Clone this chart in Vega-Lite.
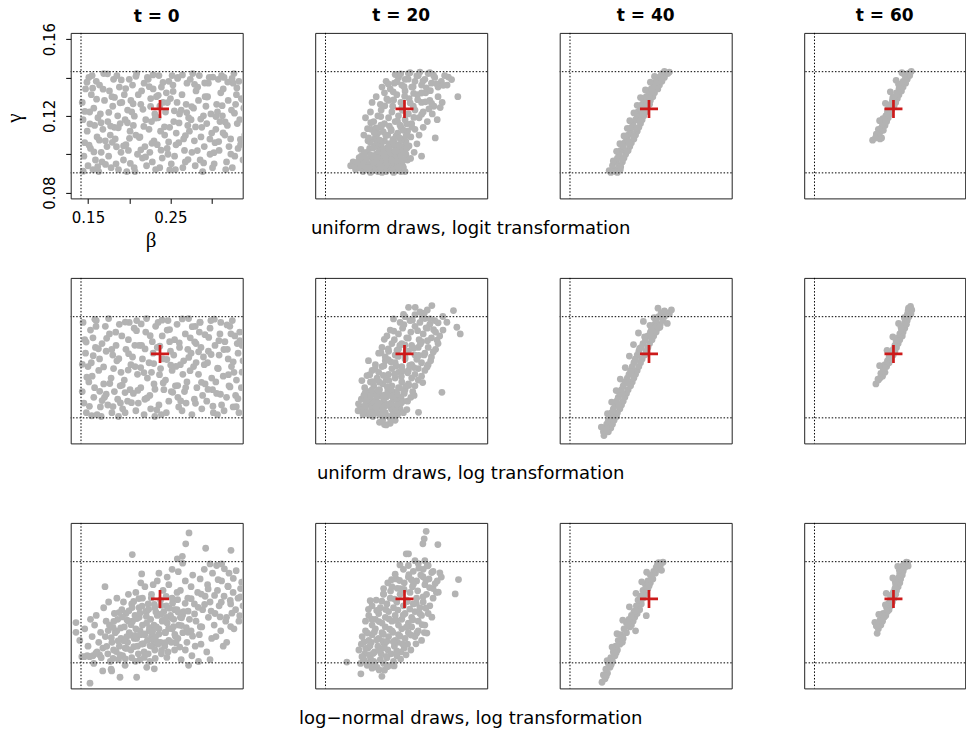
{
"$schema":"https://vega.github.io/schema/vega-lite/v6.json",
"background":"white",
"autosize":{"type":"pad"},
"padding":{"left":2.7,"top":5.9,"right":0,"bottom":0},
"config":{
 "view":{"stroke":"#222","strokeWidth":1},
 "font":"DejaVu Sans",
 "axis":{"grid":false,"domain":false,"labelFont":"DejaVu Sans","labelColor":"#000","tickColor":"#000","titleColor":"#000","titleFont":"DejaVu Sans"},
 "title":{"font":"DejaVu Sans","fontSize":17,"fontWeight":"bold","color":"#000","baseline":"alphabetic","offset":7.3,"anchor":"middle","frame":"group"},
 "circle":{"size":46,"color":"#b3b3b3","opacity":1},
 "rule":{"color":"#000","strokeDash":[1.5,1.8],"strokeWidth":1},
 "point":{"shape":"M-1,0L1,0M0,-1L0,1","size":324,"strokeWidth":2.7,"color":"#cd1a1a","filled":false,"opacity":1}
},
"datasets":{
"vl":[{"b":0.1415}],
"hl":[{"g":0.0903},{"g":0.143}],
"tr":[{"b":0.2373,"g":0.1236}],
"r1c1":[{"b":0.143,"g":0.127},{"b":0.145,"g":0.099},{"b":0.147,"g":0.134},{"b":0.149,"g":0.112},{"b":0.150,"g":0.094},{"b":0.144,"g":0.118},{"b":0.151,"g":0.140},{"b":0.146,"g":0.106},{"b":0.152,"g":0.122},
{"b":0.154,"g":0.131},{"b":0.156,"g":0.092},{"b":0.158,"g":0.115},{"b":0.153,"g":0.103},{"b":0.160,"g":0.138},{"b":0.161,"g":0.109},{"b":0.157,"g":0.124},{"b":0.159,"g":0.097},{"b":0.155,"g":0.141},{"b":0.162,"g":0.119},
{"b":0.164,"g":0.136},{"b":0.166,"g":0.101},{"b":0.168,"g":0.113},{"b":0.163,"g":0.091},{"b":0.170,"g":0.128},{"b":0.171,"g":0.107},{"b":0.165,"g":0.121},{"b":0.169,"g":0.142},{"b":0.167,"g":0.096},
{"b":0.174,"g":0.117},{"b":0.176,"g":0.133},{"b":0.178,"g":0.093},{"b":0.173,"g":0.104},{"b":0.180,"g":0.125},{"b":0.181,"g":0.139},{"b":0.177,"g":0.110},{"b":0.175,"g":0.099},{"b":0.182,"g":0.114},{"b":0.179,"g":0.130},
{"b":0.184,"g":0.095},{"b":0.186,"g":0.120},{"b":0.188,"g":0.135},{"b":0.183,"g":0.108},{"b":0.190,"g":0.101},{"b":0.191,"g":0.127},{"b":0.185,"g":0.141},{"b":0.189,"g":0.116},{"b":0.187,"g":0.092},
{"b":0.194,"g":0.131},{"b":0.196,"g":0.105},{"b":0.198,"g":0.123},{"b":0.193,"g":0.097},{"b":0.200,"g":0.139},{"b":0.201,"g":0.112},{"b":0.197,"g":0.091},{"b":0.195,"g":0.118},{"b":0.202,"g":0.128},{"b":0.199,"g":0.102},
{"b":0.204,"g":0.136},{"b":0.206,"g":0.093},{"b":0.208,"g":0.110},{"b":0.203,"g":0.122},{"b":0.210,"g":0.100},{"b":0.211,"g":0.131},{"b":0.205,"g":0.115},{"b":0.209,"g":0.142},{"b":0.207,"g":0.091},
{"b":0.214,"g":0.126},{"b":0.216,"g":0.098},{"b":0.218,"g":0.137},{"b":0.213,"g":0.109},{"b":0.220,"g":0.118},{"b":0.221,"g":0.094},{"b":0.215,"g":0.133},{"b":0.219,"g":0.104},{"b":0.222,"g":0.140},
{"b":0.224,"g":0.113},{"b":0.226,"g":0.129},{"b":0.228,"g":0.096},{"b":0.223,"g":0.139},{"b":0.230,"g":0.107},{"b":0.231,"g":0.121},{"b":0.225,"g":0.101},{"b":0.229,"g":0.134},{"b":0.227,"g":0.117},{"b":0.232,"g":0.092},
{"b":0.234,"g":0.105},{"b":0.236,"g":0.141},{"b":0.238,"g":0.112},{"b":0.233,"g":0.130},{"b":0.240,"g":0.098},{"b":0.241,"g":0.127},{"b":0.235,"g":0.119},{"b":0.239,"g":0.135},{"b":0.237,"g":0.093},
{"b":0.244,"g":0.122},{"b":0.246,"g":0.103},{"b":0.248,"g":0.138},{"b":0.243,"g":0.110},{"b":0.250,"g":0.129},{"b":0.251,"g":0.095},{"b":0.245,"g":0.132},{"b":0.249,"g":0.114},{"b":0.247,"g":0.100},{"b":0.252,"g":0.141},
{"b":0.254,"g":0.117},{"b":0.256,"g":0.092},{"b":0.258,"g":0.127},{"b":0.253,"g":0.136},{"b":0.260,"g":0.106},{"b":0.261,"g":0.121},{"b":0.255,"g":0.099},{"b":0.259,"g":0.140},{"b":0.257,"g":0.111},
{"b":0.264,"g":0.131},{"b":0.266,"g":0.108},{"b":0.268,"g":0.096},{"b":0.263,"g":0.123},{"b":0.270,"g":0.137},{"b":0.271,"g":0.115},{"b":0.265,"g":0.093},{"b":0.269,"g":0.126},{"b":0.267,"g":0.102},{"b":0.272,"g":0.119},
{"b":0.274,"g":0.139},{"b":0.276,"g":0.101},{"b":0.278,"g":0.124},{"b":0.273,"g":0.112},{"b":0.280,"g":0.094},{"b":0.281,"g":0.133},{"b":0.275,"g":0.118},{"b":0.279,"g":0.107},{"b":0.277,"g":0.142},
{"b":0.284,"g":0.128},{"b":0.286,"g":0.097},{"b":0.288,"g":0.114},{"b":0.283,"g":0.135},{"b":0.290,"g":0.120},{"b":0.291,"g":0.104},{"b":0.285,"g":0.141},{"b":0.289,"g":0.091},{"b":0.287,"g":0.109},{"b":0.292,"g":0.130},
{"b":0.294,"g":0.116},{"b":0.296,"g":0.137},{"b":0.298,"g":0.100},{"b":0.293,"g":0.125},{"b":0.300,"g":0.111},{"b":0.301,"g":0.093},{"b":0.295,"g":0.130},{"b":0.299,"g":0.121},{"b":0.297,"g":0.140},
{"b":0.304,"g":0.106},{"b":0.306,"g":0.126},{"b":0.308,"g":0.139},{"b":0.303,"g":0.095},{"b":0.310,"g":0.117},{"b":0.311,"g":0.132},{"b":0.305,"g":0.113},{"b":0.309,"g":0.102},{"b":0.307,"g":0.122},{"b":0.312,"g":0.141},
{"b":0.314,"g":0.134},{"b":0.316,"g":0.110},{"b":0.318,"g":0.096},{"b":0.313,"g":0.120},{"b":0.320,"g":0.128},{"b":0.321,"g":0.104},{"b":0.315,"g":0.140},{"b":0.319,"g":0.115},{"b":0.317,"g":0.092},
{"b":0.324,"g":0.123},{"b":0.326,"g":0.137},{"b":0.328,"g":0.099},{"b":0.323,"g":0.108},{"b":0.330,"g":0.131},{"b":0.331,"g":0.116},{"b":0.325,"g":0.093},{"b":0.329,"g":0.126},{"b":0.327,"g":0.142},{"b":0.332,"g":0.103},
{"b":0.334,"g":0.118},{"b":0.336,"g":0.129},{"b":0.338,"g":0.097},{"b":0.333,"g":0.138},{"b":0.340,"g":0.110},{"b":0.335,"g":0.105},{"b":0.339,"g":0.124},
{"b":0.1442,"g":0.0912},{"b":0.1487,"g":0.1375},{"b":0.1523,"g":0.1158},{"b":0.1571,"g":0.1012},{"b":0.1604,"g":0.1287},{"b":0.1638,"g":0.1073},{"b":0.1683,"g":0.1339},{"b":0.1712,"g":0.0947},{"b":0.1752,"g":0.1218},{"b":0.1795,"g":0.1062},{"b":0.1821,"g":0.1296},{"b":0.1867,"g":0.1138},{"b":0.1903,"g":0.1387},{"b":0.1931,"g":0.1043},{"b":0.1978,"g":0.1164},{"b":0.2013,"g":0.0952},{"b":0.2047,"g":0.1263},{"b":0.2081,"g":0.1406},{"b":0.2122,"g":0.1087},{"b":0.2166,"g":0.1234},{"b":0.2198,"g":0.0986},{"b":0.2243,"g":0.1352},{"b":0.2275,"g":0.1057},{"b":0.2316,"g":0.1188},{"b":0.2352,"g":0.1307},{"b":0.2386,"g":0.1021},{"b":0.2427,"g":0.1143},{"b":0.2463,"g":0.1269},{"b":0.2491,"g":0.0918},{"b":0.2532,"g":0.1327},{"b":0.2567,"g":0.1049},{"b":0.2604,"g":0.1163},{"b":0.2645,"g":0.1413},{"b":0.2681,"g":0.1097},{"b":0.2713,"g":0.0972},{"b":0.2757,"g":0.1248},{"b":0.2792,"g":0.1364},{"b":0.2826,"g":0.1019},{"b":0.2867,"g":0.1183},{"b":0.2902,"g":0.0955},{"b":0.2943,"g":0.1298},{"b":0.2978,"g":0.1079},{"b":0.3014,"g":0.1402},{"b":0.3051,"g":0.1196},{"b":0.3085,"g":0.1066},{"b":0.3127,"g":0.1253},{"b":0.3163,"g":0.1168},{"b":0.3194,"g":0.1376},{"b":0.3232,"g":0.1001},{"b":0.3276,"g":0.1214},{"b":0.3305,"g":0.1345},{"b":0.3348,"g":0.1077},{"b":0.3372,"g":0.1285},{"b":0.1462,"g":0.1223},{"b":0.1556,"g":0.1344},{"b":0.1658,"g":0.1164},{"b":0.1737,"g":0.1419},{"b":0.1845,"g":0.1039},{"b":0.1957,"g":0.1342},{"b":0.2062,"g":0.1198},{"b":0.2177,"g":0.1145},{"b":0.2288,"g":0.1413},{"b":0.2371,"g":0.1251},{"b":0.2478,"g":0.1064},{"b":0.2586,"g":0.1395},{"b":0.2697,"g":0.1217},{"b":0.2804,"g":0.1142},{"b":0.2915,"g":0.1371},{"b":0.3027,"g":0.1008},{"b":0.3138,"g":0.1111},{"b":0.3247,"g":0.1395},{"b":0.1513,"g":0.1047},{"b":0.1617,"g":0.0935},{"b":0.1774,"g":0.1147},{"b":0.1889,"g":0.1268},{"b":0.2003,"g":0.1083},{"b":0.2141,"g":0.1023},{"b":0.2259,"g":0.1249},{"b":0.2409,"g":0.1374},{"b":0.2547,"g":0.1226}],
"r1c2":[{"b":0.172,"g":0.094},{"b":0.175,"g":0.096},{"b":0.178,"g":0.092},{"b":0.180,"g":0.095},{"b":0.183,"g":0.093},{"b":0.185,"g":0.097},{"b":0.187,"g":0.091},{"b":0.189,"g":0.094},{"b":0.191,"g":0.096},{"b":0.193,"g":0.092},{"b":0.195,"g":0.095},{"b":0.197,"g":0.091},{"b":0.199,"g":0.093},{"b":0.201,"g":0.097},{"b":0.203,"g":0.094},{"b":0.205,"g":0.091},{"b":0.207,"g":0.096},{"b":0.209,"g":0.092},{"b":0.211,"g":0.094},{"b":0.213,"g":0.097},{"b":0.215,"g":0.091},{"b":0.217,"g":0.093},{"b":0.219,"g":0.095},{"b":0.221,"g":0.092},{"b":0.223,"g":0.096},{"b":0.225,"g":0.091},{"b":0.227,"g":0.094},{"b":0.229,"g":0.092},{"b":0.231,"g":0.095},{"b":0.233,"g":0.091},{"b":0.236,"g":0.093},{"b":0.238,"g":0.091},{"b":0.196,"g":0.0905},{"b":0.210,"g":0.0905},{"b":0.224,"g":0.0905},
{"b":0.204,"g":0.099},{"b":0.212,"g":0.0915},{"b":0.218,"g":0.0985},{"b":0.226,"g":0.099},{"b":0.232,"g":0.0985},{"b":0.206,"g":0.0935},{"b":0.222,"g":0.0935},{"b":0.214,"g":0.0955},{"b":0.228,"g":0.0965},{"b":0.234,"g":0.0955},
{"b":0.185,"g":0.099},{"b":0.192,"g":0.101},{"b":0.198,"g":0.098},{"b":0.203,"g":0.100},{"b":0.207,"g":0.103},{"b":0.211,"g":0.099},{"b":0.214,"g":0.102},{"b":0.218,"g":0.104},{"b":0.221,"g":0.098},{"b":0.224,"g":0.101},{"b":0.227,"g":0.103},{"b":0.230,"g":0.099},{"b":0.233,"g":0.102},{"b":0.236,"g":0.104},{"b":0.239,"g":0.100},{"b":0.216,"g":0.0975},{"b":0.209,"g":0.105},{"b":0.201,"g":0.104},{"b":0.195,"g":0.103},{"b":0.241,"g":0.097},{"b":0.226,"g":0.097},{"b":0.231,"g":0.105},{"b":0.258,"g":0.099},{"b":0.249,"g":0.101},{"b":0.2746,"g":0.1085},
{"b":0.188,"g":0.110},{"b":0.193,"g":0.107},{"b":0.197,"g":0.113},{"b":0.201,"g":0.108},{"b":0.205,"g":0.111},{"b":0.209,"g":0.114},{"b":0.213,"g":0.107},{"b":0.217,"g":0.110},{"b":0.221,"g":0.113},{"b":0.225,"g":0.106},{"b":0.229,"g":0.111},{"b":0.233,"g":0.114},{"b":0.237,"g":0.108},{"b":0.241,"g":0.112},{"b":0.245,"g":0.109},{"b":0.250,"g":0.113},{"b":0.255,"g":0.110},{"b":0.260,"g":0.114},{"b":0.219,"g":0.1055},{"b":0.239,"g":0.1065},
{"b":0.190,"g":0.119},{"b":0.196,"g":0.122},{"b":0.200,"g":0.117},{"b":0.205,"g":0.120},{"b":0.209,"g":0.123},{"b":0.213,"g":0.116},{"b":0.218,"g":0.119},{"b":0.222,"g":0.122},{"b":0.226,"g":0.117},{"b":0.230,"g":0.120},{"b":0.234,"g":0.124},{"b":0.238,"g":0.118},{"b":0.242,"g":0.121},{"b":0.246,"g":0.116},{"b":0.250,"g":0.123},{"b":0.255,"g":0.119},{"b":0.260,"g":0.122},{"b":0.265,"g":0.117},{"b":0.271,"g":0.121},{"b":0.277,"g":0.118},
{"b":0.198,"g":0.127},{"b":0.203,"g":0.130},{"b":0.208,"g":0.126},{"b":0.213,"g":0.132},{"b":0.218,"g":0.128},{"b":0.223,"g":0.125},{"b":0.228,"g":0.131},{"b":0.233,"g":0.127},{"b":0.238,"g":0.133},{"b":0.243,"g":0.129},{"b":0.248,"g":0.125},{"b":0.253,"g":0.131},{"b":0.258,"g":0.127},{"b":0.263,"g":0.132},{"b":0.268,"g":0.128},{"b":0.273,"g":0.125},{"b":0.278,"g":0.130},{"b":0.283,"g":0.127},{"b":0.302,"g":0.130},
{"b":0.210,"g":0.135},{"b":0.215,"g":0.138},{"b":0.220,"g":0.134},{"b":0.225,"g":0.137},{"b":0.230,"g":0.140},{"b":0.234,"g":0.136},{"b":0.238,"g":0.139},{"b":0.242,"g":0.142},{"b":0.246,"g":0.135},{"b":0.250,"g":0.138},{"b":0.254,"g":0.141},{"b":0.258,"g":0.136},{"b":0.262,"g":0.139},{"b":0.266,"g":0.142},{"b":0.270,"g":0.137},{"b":0.274,"g":0.140},{"b":0.278,"g":0.135},{"b":0.282,"g":0.138},{"b":0.286,"g":0.141},{"b":0.289,"g":0.136},{"b":0.244,"g":0.1425},{"b":0.256,"g":0.1428},{"b":0.268,"g":0.1425},{"b":0.226,"g":0.1415},
{"b":0.1912,"g":0.0978},{"b":0.1987,"g":0.0962},{"b":0.2024,"g":0.0921},{"b":0.2063,"g":0.1012},{"b":0.2098,"g":0.0968},{"b":0.2137,"g":0.0941},{"b":0.2171,"g":0.1036},{"b":0.2204,"g":0.0957},{"b":0.2243,"g":0.1049},{"b":0.2281,"g":0.0928},{"b":0.2318,"g":0.1007},{"b":0.2352,"g":0.0938},{"b":0.2374,"g":0.1013},{"b":0.1956,"g":0.1064},{"b":0.2031,"g":0.1053},{"b":0.2117,"g":0.1028},{"b":0.2194,"g":0.1011},{"b":0.2262,"g":0.0982},{"b":0.2335,"g":0.1071},{"b":0.1823,"g":0.0982},{"b":0.1768,"g":0.0937},{"b":0.1845,"g":0.1025},{"b":0.2059,"g":0.0948},{"b":0.2148,"g":0.0982},{"b":0.2227,"g":0.0917},{"b":0.2296,"g":0.1042},
{"b":0.1964,"g":0.1164},{"b":0.2027,"g":0.1137},{"b":0.2085,"g":0.1196},{"b":0.2134,"g":0.1252},{"b":0.2189,"g":0.1147},{"b":0.2241,"g":0.1283},{"b":0.2288,"g":0.1173},{"b":0.2347,"g":0.1229},{"b":0.2399,"g":0.1158},{"b":0.2442,"g":0.1267},{"b":0.2487,"g":0.1192},{"b":0.2533,"g":0.1284},{"b":0.2581,"g":0.1208},{"b":0.2627,"g":0.1273},{"b":0.2669,"g":0.1236},{"b":0.2044,"g":0.1078},{"b":0.2116,"g":0.1117},{"b":0.2271,"g":0.1096},{"b":0.2358,"g":0.1125},{"b":0.2463,"g":0.1141},{"b":0.2524,"g":0.1054},{"b":0.1925,"g":0.1133},{"b":0.2159,"g":0.1288},{"b":0.2375,"g":0.1302},{"b":0.2702,"g":0.1265},{"b":0.2806,"g":0.1243},
{"b":0.2176,"g":0.1366},{"b":0.2236,"g":0.1325},{"b":0.2283,"g":0.1378},{"b":0.2327,"g":0.1419},{"b":0.2368,"g":0.1352},{"b":0.2417,"g":0.1391},{"b":0.2478,"g":0.1352},{"b":0.2523,"g":0.1408},{"b":0.2597,"g":0.1381},{"b":0.2638,"g":0.1346},{"b":0.2724,"g":0.1412},{"b":0.2761,"g":0.1367},{"b":0.2843,"g":0.1359},{"b":0.2905,"g":0.1402},{"b":0.2944,"g":0.1389},{"b":0.2484,"g":0.1317},{"b":0.2579,"g":0.1319},{"b":0.2687,"g":0.1331},
{"b":0.1865,"g":0.0952},{"b":0.1942,"g":0.0931},{"b":0.2008,"g":0.0958},{"b":0.2083,"g":0.0927},{"b":0.2157,"g":0.0952},{"b":0.2214,"g":0.0971},{"b":0.2302,"g":0.0935},{"b":0.2366,"g":0.0972},{"b":0.1887,"g":0.1008},{"b":0.1965,"g":0.0995},{"b":0.2045,"g":0.0983},{"b":0.2123,"g":0.1003},{"b":0.2186,"g":0.1027},{"b":0.2256,"g":0.1018},{"b":0.2325,"g":0.0992},{"b":0.2403,"g":0.1032},{"b":0.1938,"g":0.1085},{"b":0.2006,"g":0.1112},{"b":0.2072,"g":0.1074},{"b":0.2147,"g":0.1098},{"b":0.2233,"g":0.1077},{"b":0.2307,"g":0.1086},{"b":0.2392,"g":0.1097},{"b":0.2428,"g":0.1043},{"b":0.1993,"g":0.1032},{"b":0.2212,"g":0.1123},{"b":0.2087,"g":0.1152},{"b":0.2318,"g":0.1152},{"b":0.1803,"g":0.0958},{"b":0.2447,"g":0.0978}],
"r1c3":[{"b":0.191,"g":0.0905},{"b":0.199,"g":0.0905},{"b":0.195,"g":0.092},{"b":0.2025,"g":0.092},{"b":0.193,"g":0.094},{"b":0.201,"g":0.094},{"b":0.197,"g":0.096},{"b":0.205,"g":0.096},{"b":0.199,"g":0.098},{"b":0.207,"g":0.098},{"b":0.201,"g":0.100},{"b":0.209,"g":0.100},{"b":0.203,"g":0.102},{"b":0.212,"g":0.102},{"b":0.206,"g":0.104},{"b":0.214,"g":0.104},{"b":0.208,"g":0.106},{"b":0.216,"g":0.106},{"b":0.210,"g":0.108},{"b":0.219,"g":0.108},{"b":0.212,"g":0.110},{"b":0.221,"g":0.110},{"b":0.215,"g":0.112},{"b":0.223,"g":0.112},{"b":0.216,"g":0.114},{"b":0.225,"g":0.114},{"b":0.218,"g":0.116},{"b":0.227,"g":0.116},{"b":0.221,"g":0.118},{"b":0.229,"g":0.118},{"b":0.223,"g":0.120},{"b":0.231,"g":0.120},{"b":0.224,"g":0.122},{"b":0.233,"g":0.122},{"b":0.227,"g":0.124},{"b":0.235,"g":0.124},{"b":0.229,"g":0.126},{"b":0.238,"g":0.126},{"b":0.231,"g":0.128},{"b":0.239,"g":0.128},{"b":0.234,"g":0.130},{"b":0.242,"g":0.130},{"b":0.237,"g":0.132},{"b":0.244,"g":0.132},{"b":0.240,"g":0.134},{"b":0.248,"g":0.134},{"b":0.243,"g":0.136},{"b":0.250,"g":0.136},{"b":0.246,"g":0.138},{"b":0.253,"g":0.138},{"b":0.249,"g":0.140},{"b":0.256,"g":0.140},{"b":0.253,"g":0.142},{"b":0.260,"g":0.142},{"b":0.197,"g":0.091},{"b":0.212,"g":0.107},{"b":0.228,"g":0.121},{"b":0.238,"g":0.129},{"b":0.252,"g":0.141},
{"b":0.189,"g":0.0915},{"b":0.203,"g":0.0935},{"b":0.2055,"g":0.0975},{"b":0.194,"g":0.0965},{"b":0.2105,"g":0.1015},{"b":0.198,"g":0.1015},{"b":0.2145,"g":0.1055},{"b":0.202,"g":0.1055},{"b":0.2185,"g":0.1095},{"b":0.207,"g":0.1095},{"b":0.222,"g":0.1135},{"b":0.211,"g":0.1135},{"b":0.226,"g":0.1175},{"b":0.214,"g":0.1175},{"b":0.230,"g":0.1215},{"b":0.219,"g":0.1215},{"b":0.234,"g":0.1255},{"b":0.223,"g":0.1255},{"b":0.2375,"g":0.1295},{"b":0.227,"g":0.1295},{"b":0.2415,"g":0.1335},{"b":0.233,"g":0.1335},{"b":0.2465,"g":0.1375},{"b":0.239,"g":0.1375},{"b":0.2515,"g":0.1395},{"b":0.244,"g":0.1405},{"b":0.262,"g":0.1428},{"b":0.256,"g":0.1432}],
"r1c4":[{"b":0.2120,"g":0.1073},{"b":0.2229,"g":0.1085},{"b":0.217,"g":0.110},{"b":0.221,"g":0.1115},{"b":0.225,"g":0.1125},{"b":0.219,"g":0.113},{"b":0.223,"g":0.114},{"b":0.227,"g":0.115},{"b":0.224,"g":0.116},{"b":0.229,"g":0.117},{"b":0.226,"g":0.118},{"b":0.231,"g":0.119},{"b":0.228,"g":0.120},{"b":0.233,"g":0.121},{"b":0.230,"g":0.122},{"b":0.235,"g":0.123},{"b":0.232,"g":0.124},{"b":0.238,"g":0.125},{"b":0.234,"g":0.126},{"b":0.240,"g":0.127},{"b":0.236,"g":0.128},{"b":0.242,"g":0.129},{"b":0.239,"g":0.130},{"b":0.244,"g":0.131},{"b":0.241,"g":0.132},{"b":0.247,"g":0.133},{"b":0.244,"g":0.134},{"b":0.249,"g":0.135},{"b":0.246,"g":0.136},{"b":0.252,"g":0.137},{"b":0.249,"g":0.138},{"b":0.254,"g":0.139},{"b":0.252,"g":0.140},{"b":0.257,"g":0.141},{"b":0.255,"g":0.142},{"b":0.259,"g":0.1432},{"b":0.221,"g":0.108},
{"b":0.2165,"g":0.1105},{"b":0.2155,"g":0.1085},{"b":0.2245,"g":0.1185},{"b":0.2205,"g":0.1175},{"b":0.2305,"g":0.1235},{"b":0.2275,"g":0.1265},{"b":0.2365,"g":0.1295},{"b":0.2335,"g":0.1325},{"b":0.2435,"g":0.1365},{"b":0.2405,"g":0.1385},{"b":0.2505,"g":0.1415},{"b":0.2475,"g":0.1425},{"b":0.2575,"g":0.1425}],
"r2c1":[{"b":0.143,"g":0.104},{"b":0.146,"g":0.131},{"b":0.148,"g":0.093},{"b":0.150,"g":0.117},{"b":0.144,"g":0.140},{"b":0.151,"g":0.109},{"b":0.147,"g":0.124},{"b":0.145,"g":0.098},
{"b":0.153,"g":0.136},{"b":0.155,"g":0.112},{"b":0.157,"g":0.101},{"b":0.159,"g":0.127},{"b":0.161,"g":0.092},{"b":0.154,"g":0.119},{"b":0.160,"g":0.141},{"b":0.158,"g":0.106},{"b":0.156,"g":0.132},
{"b":0.163,"g":0.115},{"b":0.165,"g":0.096},{"b":0.167,"g":0.129},{"b":0.169,"g":0.108},{"b":0.171,"g":0.138},{"b":0.164,"g":0.121},{"b":0.170,"g":0.101},{"b":0.166,"g":0.091},{"b":0.172,"g":0.125},
{"b":0.174,"g":0.097},{"b":0.176,"g":0.134},{"b":0.178,"g":0.111},{"b":0.180,"g":0.123},{"b":0.182,"g":0.104},{"b":0.175,"g":0.142},{"b":0.179,"g":0.093},{"b":0.181,"g":0.116},
{"b":0.184,"g":0.128},{"b":0.186,"g":0.100},{"b":0.188,"g":0.139},{"b":0.190,"g":0.114},{"b":0.192,"g":0.095},{"b":0.185,"g":0.120},{"b":0.189,"g":0.107},{"b":0.191,"g":0.133},{"b":0.187,"g":0.091},
{"b":0.194,"g":0.110},{"b":0.196,"g":0.126},{"b":0.198,"g":0.099},{"b":0.200,"g":0.140},{"b":0.202,"g":0.118},{"b":0.195,"g":0.093},{"b":0.199,"g":0.131},{"b":0.201,"g":0.105},
{"b":0.204,"g":0.122},{"b":0.206,"g":0.137},{"b":0.208,"g":0.094},{"b":0.210,"g":0.113},{"b":0.212,"g":0.128},{"b":0.205,"g":0.103},{"b":0.209,"g":0.141},{"b":0.211,"g":0.098},{"b":0.207,"g":0.117},
{"b":0.214,"g":0.106},{"b":0.216,"g":0.121},{"b":0.218,"g":0.092},{"b":0.220,"g":0.135},{"b":0.222,"g":0.111},{"b":0.215,"g":0.128},{"b":0.219,"g":0.100},{"b":0.221,"g":0.142},
{"b":0.224,"g":0.119},{"b":0.226,"g":0.095},{"b":0.228,"g":0.130},{"b":0.230,"g":0.108},{"b":0.232,"g":0.138},{"b":0.225,"g":0.102},{"b":0.229,"g":0.124},{"b":0.231,"g":0.091},{"b":0.227,"g":0.114},
{"b":0.234,"g":0.127},{"b":0.236,"g":0.097},{"b":0.238,"g":0.116},{"b":0.240,"g":0.133},{"b":0.242,"g":0.105},{"b":0.235,"g":0.140},{"b":0.239,"g":0.092},{"b":0.241,"g":0.121},
{"b":0.244,"g":0.110},{"b":0.246,"g":0.136},{"b":0.248,"g":0.099},{"b":0.250,"g":0.125},{"b":0.252,"g":0.115},{"b":0.245,"g":0.093},{"b":0.249,"g":0.130},{"b":0.251,"g":0.104},{"b":0.247,"g":0.141},
{"b":0.254,"g":0.123},{"b":0.256,"g":0.107},{"b":0.258,"g":0.139},{"b":0.260,"g":0.096},{"b":0.262,"g":0.118},{"b":0.255,"g":0.131},{"b":0.259,"g":0.101},{"b":0.261,"g":0.127},
{"b":0.264,"g":0.094},{"b":0.266,"g":0.120},{"b":0.268,"g":0.134},{"b":0.270,"g":0.109},{"b":0.272,"g":0.142},{"b":0.265,"g":0.113},{"b":0.269,"g":0.098},{"b":0.271,"g":0.126},{"b":0.267,"g":0.104},
{"b":0.274,"g":0.132},{"b":0.276,"g":0.092},{"b":0.278,"g":0.117},{"b":0.280,"g":0.138},{"b":0.282,"g":0.106},{"b":0.275,"g":0.124},{"b":0.279,"g":0.100},{"b":0.281,"g":0.129},
{"b":0.284,"g":0.113},{"b":0.286,"g":0.140},{"b":0.288,"g":0.095},{"b":0.290,"g":0.122},{"b":0.292,"g":0.108},{"b":0.285,"g":0.135},{"b":0.289,"g":0.102},{"b":0.291,"g":0.118},{"b":0.287,"g":0.127},
{"b":0.294,"g":0.099},{"b":0.296,"g":0.125},{"b":0.298,"g":0.137},{"b":0.300,"g":0.111},{"b":0.302,"g":0.093},{"b":0.295,"g":0.119},{"b":0.299,"g":0.141},{"b":0.301,"g":0.105},
{"b":0.304,"g":0.128},{"b":0.306,"g":0.103},{"b":0.308,"g":0.116},{"b":0.310,"g":0.134},{"b":0.312,"g":0.097},{"b":0.305,"g":0.109},{"b":0.309,"g":0.123},{"b":0.311,"g":0.140},{"b":0.307,"g":0.092},
{"b":0.314,"g":0.112},{"b":0.316,"g":0.130},{"b":0.318,"g":0.101},{"b":0.320,"g":0.121},{"b":0.322,"g":0.138},{"b":0.315,"g":0.094},{"b":0.319,"g":0.126},{"b":0.321,"g":0.107},
{"b":0.324,"g":0.117},{"b":0.326,"g":0.096},{"b":0.328,"g":0.133},{"b":0.330,"g":0.110},{"b":0.332,"g":0.124},{"b":0.325,"g":0.141},{"b":0.329,"g":0.102},{"b":0.331,"g":0.129},{"b":0.327,"g":0.114},
{"b":0.334,"g":0.135},{"b":0.336,"g":0.106},{"b":0.338,"g":0.120},{"b":0.333,"g":0.093},{"b":0.337,"g":0.128},
{"b":0.1431,"g":0.1182},{"b":0.1478,"g":0.1298},{"b":0.1517,"g":0.0963},{"b":0.1563,"g":0.1227},{"b":0.1597,"g":0.1379},{"b":0.1642,"g":0.1041},{"b":0.1689,"g":0.1168},{"b":0.1726,"g":0.1317},{"b":0.1764,"g":0.1082},{"b":0.1803,"g":0.0962},{"b":0.1836,"g":0.1349},{"b":0.1874,"g":0.1211},{"b":0.1915,"g":0.1074},{"b":0.1952,"g":0.1402},{"b":0.1987,"g":0.1152},{"b":0.2027,"g":0.0982},{"b":0.2068,"g":0.1281},{"b":0.2104,"g":0.1046},{"b":0.2145,"g":0.1392},{"b":0.2178,"g":0.1139},{"b":0.2216,"g":0.1007},{"b":0.2254,"g":0.1331},{"b":0.2297,"g":0.1186},{"b":0.2334,"g":0.0944},{"b":0.2371,"g":0.1276},{"b":0.2412,"g":0.1085},{"b":0.2456,"g":0.1207},{"b":0.2489,"g":0.1363},{"b":0.2527,"g":0.1036},{"b":0.2566,"g":0.1171},{"b":0.2607,"g":0.1294},{"b":0.2643,"g":0.1418},{"b":0.2685,"g":0.1061},{"b":0.2722,"g":0.1218},{"b":0.2764,"g":0.1378},{"b":0.2803,"g":0.0979},{"b":0.2841,"g":0.1247},{"b":0.2876,"g":0.1088},{"b":0.2918,"g":0.1336},{"b":0.2955,"g":0.1051},{"b":0.2993,"g":0.1233},{"b":0.3032,"g":0.1417},{"b":0.3071,"g":0.1162},{"b":0.3106,"g":0.1026},{"b":0.3148,"g":0.1259},{"b":0.3186,"g":0.1387},{"b":0.3222,"g":0.1064},{"b":0.3261,"g":0.1195},{"b":0.3298,"g":0.0961},{"b":0.3342,"g":0.1305},{"b":0.3369,"g":0.1141},{"b":0.1486,"g":0.1115},{"b":0.1583,"g":0.1416},{"b":0.1671,"g":0.0993},{"b":0.1788,"g":0.1259},{"b":0.1893,"g":0.0981},{"b":0.1992,"g":0.1237},{"b":0.2088,"g":0.1357},{"b":0.2192,"g":0.1262},{"b":0.2312,"g":0.1052},{"b":0.2398,"g":0.1412},{"b":0.2503,"g":0.1178},{"b":0.2624,"g":0.0991},{"b":0.2738,"g":0.1149},{"b":0.2857,"g":0.1402},{"b":0.2964,"g":0.1322},{"b":0.3087,"g":0.1305},{"b":0.3203,"g":0.1128},{"b":0.3318,"g":0.1003},{"b":0.1544,"g":0.0914},{"b":0.1721,"g":0.1026},{"b":0.1949,"g":0.1035},{"b":0.2139,"g":0.1165},{"b":0.2367,"g":0.1128},{"b":0.2588,"g":0.1071},{"b":0.2793,"g":0.1299},{"b":0.3015,"g":0.0964},{"b":0.3233,"g":0.1341},{"b":0.1626,"g":0.1263},{"b":0.2811,"g":0.1191}],
"r2c2":[{"b":0.207,"g":0.0880},{"b":0.213,"g":0.0868},{"b":0.2151,"g":0.0866},{"b":0.220,"g":0.0875},{"b":0.226,"g":0.0890},{"b":0.211,"g":0.0895},
{"b":0.181,"g":0.094},{"b":0.184,"g":0.096},{"b":0.187,"g":0.092},{"b":0.190,"g":0.095},{"b":0.193,"g":0.093},{"b":0.196,"g":0.097},{"b":0.199,"g":0.091},{"b":0.202,"g":0.094},{"b":0.205,"g":0.096},{"b":0.208,"g":0.092},{"b":0.211,"g":0.095},{"b":0.214,"g":0.093},{"b":0.217,"g":0.097},{"b":0.220,"g":0.091},{"b":0.223,"g":0.094},{"b":0.226,"g":0.096},{"b":0.229,"g":0.092},{"b":0.232,"g":0.095},{"b":0.236,"g":0.093},{"b":0.2402,"g":0.0946},{"b":0.2543,"g":0.0932},{"b":0.198,"g":0.0955},{"b":0.215,"g":0.0915},{"b":0.230,"g":0.0965},
{"b":0.1815,"g":0.0976},{"b":0.185,"g":0.100},{"b":0.188,"g":0.102},{"b":0.191,"g":0.098},{"b":0.194,"g":0.101},{"b":0.197,"g":0.099},{"b":0.200,"g":0.103},{"b":0.203,"g":0.100},{"b":0.206,"g":0.098},{"b":0.209,"g":0.102},{"b":0.212,"g":0.099},{"b":0.215,"g":0.101},{"b":0.218,"g":0.103},{"b":0.221,"g":0.098},{"b":0.224,"g":0.100},{"b":0.227,"g":0.102},{"b":0.230,"g":0.099},{"b":0.233,"g":0.101},{"b":0.237,"g":0.103},{"b":0.241,"g":0.099},{"b":0.245,"g":0.101},{"b":0.249,"g":0.102},{"b":0.208,"g":0.0975},{"b":0.222,"g":0.1015},
{"b":0.1856,"g":0.1097},{"b":0.189,"g":0.106},{"b":0.193,"g":0.104},{"b":0.196,"g":0.109},{"b":0.200,"g":0.107},{"b":0.204,"g":0.111},{"b":0.207,"g":0.105},{"b":0.211,"g":0.108},{"b":0.215,"g":0.110},{"b":0.218,"g":0.104},{"b":0.222,"g":0.107},{"b":0.226,"g":0.111},{"b":0.230,"g":0.106},{"b":0.234,"g":0.109},{"b":0.238,"g":0.105},{"b":0.242,"g":0.108},{"b":0.246,"g":0.111},{"b":0.250,"g":0.107},{"b":0.254,"g":0.110},{"b":0.2827,"g":0.1036},{"b":0.258,"g":0.112},
{"b":0.1936,"g":0.1201},{"b":0.198,"g":0.115},{"b":0.202,"g":0.118},{"b":0.206,"g":0.114},{"b":0.210,"g":0.117},{"b":0.214,"g":0.120},{"b":0.218,"g":0.113},{"b":0.222,"g":0.116},{"b":0.226,"g":0.119},{"b":0.230,"g":0.114},{"b":0.234,"g":0.117},{"b":0.238,"g":0.121},{"b":0.242,"g":0.115},{"b":0.246,"g":0.118},{"b":0.250,"g":0.113},{"b":0.254,"g":0.116},{"b":0.258,"g":0.119},{"b":0.262,"g":0.115},{"b":0.266,"g":0.118},{"b":0.269,"g":0.120},
{"b":0.206,"g":0.124},{"b":0.210,"g":0.127},{"b":0.214,"g":0.122},{"b":0.218,"g":0.125},{"b":0.222,"g":0.129},{"b":0.226,"g":0.123},{"b":0.230,"g":0.126},{"b":0.234,"g":0.129},{"b":0.238,"g":0.122},{"b":0.242,"g":0.125},{"b":0.246,"g":0.128},{"b":0.250,"g":0.123},{"b":0.254,"g":0.127},{"b":0.258,"g":0.130},{"b":0.262,"g":0.124},{"b":0.266,"g":0.127},{"b":0.270,"g":0.122},{"b":0.275,"g":0.126},{"b":0.278,"g":0.129},
{"b":0.216,"g":0.133},{"b":0.220,"g":0.136},{"b":0.225,"g":0.131},{"b":0.230,"g":0.134},{"b":0.235,"g":0.137},{"b":0.240,"g":0.132},{"b":0.245,"g":0.135},{"b":0.250,"g":0.138},{"b":0.255,"g":0.131},{"b":0.260,"g":0.134},{"b":0.265,"g":0.137},{"b":0.270,"g":0.132},{"b":0.275,"g":0.135},{"b":0.280,"g":0.133},{"b":0.284,"g":0.136},{"b":0.3049,"g":0.1340},{"b":0.3008,"g":0.1375},
{"b":0.2240,"g":0.1418},{"b":0.232,"g":0.140},{"b":0.238,"g":0.143},{"b":0.244,"g":0.141},{"b":0.250,"g":0.144},{"b":0.256,"g":0.140},{"b":0.262,"g":0.142},{"b":0.268,"g":0.139},{"b":0.274,"g":0.141},{"b":0.2887,"g":0.1401},{"b":0.2967,"g":0.1462},{"b":0.2422,"g":0.1479},{"b":0.2503,"g":0.1479},{"b":0.2705,"g":0.1488},{"b":0.265,"g":0.1465},{"b":0.256,"g":0.1455},
{"b":0.1872,"g":0.0938},{"b":0.1913,"g":0.0995},{"b":0.1946,"g":0.0918},{"b":0.2004,"g":0.0982},{"b":0.2052,"g":0.0927},{"b":0.2096,"g":0.1015},{"b":0.2135,"g":0.0964},{"b":0.2171,"g":0.1046},{"b":0.2214,"g":0.0951},{"b":0.2245,"g":0.1037},{"b":0.2282,"g":0.0972},{"b":0.2312,"g":0.1059},{"b":0.2356,"g":0.0989},{"b":0.2387,"g":0.1065},{"b":0.1918,"g":0.1123},{"b":0.1975,"g":0.1047},{"b":0.2017,"g":0.1158},{"b":0.2069,"g":0.1089},{"b":0.2123,"g":0.1174},{"b":0.2165,"g":0.1064},{"b":0.2207,"g":0.1195},{"b":0.2255,"g":0.1131},{"b":0.2296,"g":0.1223},{"b":0.2348,"g":0.1147},{"b":0.2394,"g":0.1251},{"b":0.2436,"g":0.1176},{"b":0.2484,"g":0.1265},{"b":0.2523,"g":0.1208},{"b":0.2566,"g":0.1288},{"b":0.2611,"g":0.1231},{"b":0.2652,"g":0.1305},{"b":0.2128,"g":0.1312},{"b":0.2177,"g":0.1262},{"b":0.2243,"g":0.1355},{"b":0.2317,"g":0.1281},{"b":0.2366,"g":0.1388},{"b":0.2419,"g":0.1318},{"b":0.2468,"g":0.1412},{"b":0.2532,"g":0.1357},{"b":0.2587,"g":0.1426},{"b":0.2635,"g":0.1372},{"b":0.2682,"g":0.1419},{"b":0.2726,"g":0.1362},{"b":0.2768,"g":0.1308},{"b":0.2647,"g":0.1168},{"b":0.2722,"g":0.1246},{"b":0.2594,"g":0.1087},{"b":0.2473,"g":0.1039},{"b":0.2089,"g":0.1241},{"b":0.1987,"g":0.1092},{"b":0.2035,"g":0.1018},{"b":0.2198,"g":0.0902},{"b":0.2267,"g":0.0918},{"b":0.2781,"g":0.1398},{"b":0.2838,"g":0.1431},{"b":0.2612,"g":0.1448},{"b":0.2361,"g":0.1442},
{"b":0.1893,"g":0.0966},{"b":0.1967,"g":0.0932},{"b":0.2028,"g":0.0962},{"b":0.2115,"g":0.0938},{"b":0.2187,"g":0.0975},{"b":0.2263,"g":0.0942},{"b":0.2328,"g":0.0978},{"b":0.1895,"g":0.1032},{"b":0.1962,"g":0.1018},{"b":0.2053,"g":0.1047},{"b":0.2137,"g":0.1022},{"b":0.2208,"g":0.1052},{"b":0.2286,"g":0.1028},{"b":0.2367,"g":0.1039},{"b":0.2425,"g":0.1072},{"b":0.1952,"g":0.1128},{"b":0.2043,"g":0.1102},{"b":0.2117,"g":0.1124},{"b":0.2184,"g":0.1098},{"b":0.2273,"g":0.1172},{"b":0.2335,"g":0.1118},{"b":0.2412,"g":0.1138},{"b":0.2488,"g":0.1165},{"b":0.2547,"g":0.1228},{"b":0.2176,"g":0.1206},{"b":0.2282,"g":0.1254},{"b":0.2378,"g":0.1283}],
"r2c3":[{"b":0.1827,"g":0.0811},{"b":0.182,"g":0.083},{"b":0.188,"g":0.083},{"b":0.183,"g":0.085},{"b":0.191,"g":0.085},{"b":0.186,"g":0.087},{"b":0.193,"g":0.087},{"b":0.188,"g":0.089},{"b":0.195,"g":0.089},{"b":0.190,"g":0.091},{"b":0.198,"g":0.091},{"b":0.192,"g":0.093},{"b":0.199,"g":0.093},{"b":0.194,"g":0.095},{"b":0.202,"g":0.095},{"b":0.196,"g":0.097},{"b":0.204,"g":0.097},{"b":0.198,"g":0.099},{"b":0.206,"g":0.099},{"b":0.200,"g":0.101},{"b":0.208,"g":0.101},{"b":0.202,"g":0.103},{"b":0.210,"g":0.103},{"b":0.204,"g":0.105},{"b":0.212,"g":0.105},{"b":0.206,"g":0.107},{"b":0.215,"g":0.107},{"b":0.208,"g":0.109},{"b":0.217,"g":0.109},{"b":0.211,"g":0.111},{"b":0.219,"g":0.111},{"b":0.213,"g":0.113},{"b":0.221,"g":0.113},{"b":0.215,"g":0.115},{"b":0.223,"g":0.115},{"b":0.217,"g":0.117},{"b":0.225,"g":0.117},{"b":0.219,"g":0.119},{"b":0.227,"g":0.119},{"b":0.221,"g":0.121},{"b":0.229,"g":0.121},{"b":0.223,"g":0.123},{"b":0.232,"g":0.123},{"b":0.225,"g":0.125},{"b":0.234,"g":0.125},{"b":0.228,"g":0.127},{"b":0.236,"g":0.127},{"b":0.230,"g":0.129},{"b":0.238,"g":0.129},{"b":0.233,"g":0.131},{"b":0.241,"g":0.131},{"b":0.236,"g":0.133},{"b":0.243,"g":0.133},{"b":0.239,"g":0.135},{"b":0.246,"g":0.135},{"b":0.241,"g":0.137},{"b":0.248,"g":0.137},{"b":0.244,"g":0.139},{"b":0.251,"g":0.139},{"b":0.246,"g":0.141},{"b":0.254,"g":0.141},{"b":0.249,"g":0.143},{"b":0.256,"g":0.143},{"b":0.252,"g":0.145},{"b":0.259,"g":0.145},{"b":0.2482,"g":0.1474},{"b":0.2645,"g":0.1465},{"b":0.256,"g":0.146},
{"b":0.186,"g":0.0845},{"b":0.1795,"g":0.0855},{"b":0.1955,"g":0.0905},{"b":0.187,"g":0.0925},{"b":0.2005,"g":0.0965},{"b":0.192,"g":0.0985},{"b":0.2055,"g":0.1025},{"b":0.1975,"g":0.1045},{"b":0.2105,"g":0.1085},{"b":0.2025,"g":0.1105},{"b":0.2155,"g":0.1145},{"b":0.2085,"g":0.1165},{"b":0.2205,"g":0.1205},{"b":0.2135,"g":0.1225},{"b":0.226,"g":0.1265},{"b":0.2185,"g":0.1285},{"b":0.232,"g":0.1325},{"b":0.2245,"g":0.1345},{"b":0.2385,"g":0.1385},{"b":0.2305,"g":0.1405},{"b":0.2435,"g":0.1425},{"b":0.2595,"g":0.1395},{"b":0.2505,"g":0.1375},{"b":0.262,"g":0.1445},{"b":0.2405,"g":0.1365}],
"r2c4":[{"b":0.2160,"g":0.1080},{"b":0.219,"g":0.110},{"b":0.221,"g":0.111},{"b":0.224,"g":0.112},{"b":0.222,"g":0.1135},{"b":0.227,"g":0.114},{"b":0.225,"g":0.1155},{"b":0.229,"g":0.117},{"b":0.227,"g":0.118},{"b":0.232,"g":0.119},{"b":0.230,"g":0.120},{"b":0.234,"g":0.121},{"b":0.232,"g":0.122},{"b":0.237,"g":0.123},{"b":0.235,"g":0.124},{"b":0.239,"g":0.125},{"b":0.237,"g":0.126},{"b":0.241,"g":0.127},{"b":0.239,"g":0.128},{"b":0.243,"g":0.129},{"b":0.241,"g":0.130},{"b":0.245,"g":0.131},{"b":0.243,"g":0.132},{"b":0.248,"g":0.133},{"b":0.245,"g":0.134},{"b":0.249,"g":0.135},{"b":0.247,"g":0.136},{"b":0.251,"g":0.137},{"b":0.249,"g":0.138},{"b":0.253,"g":0.139},{"b":0.251,"g":0.140},{"b":0.254,"g":0.141},{"b":0.252,"g":0.142},{"b":0.256,"g":0.143},{"b":0.254,"g":0.144},{"b":0.257,"g":0.145},{"b":0.255,"g":0.146},{"b":0.2580,"g":0.1484},{"b":0.2555,"g":0.1475},
{"b":0.2185,"g":0.1105},{"b":0.2265,"g":0.1165},{"b":0.2205,"g":0.1175},{"b":0.2345,"g":0.1245},{"b":0.2295,"g":0.1255},{"b":0.2405,"g":0.1305},{"b":0.2365,"g":0.1325},{"b":0.2465,"g":0.1375},{"b":0.2435,"g":0.1395},{"b":0.2505,"g":0.1425},{"b":0.2595,"g":0.1465},{"b":0.2585,"g":0.1445}],
"r3c1":[{"b":0.2725,"g":0.1580},{"b":0.2685,"g":0.1523},{"b":0.2927,"g":0.1500},{"b":0.3234,"g":0.1489},{"b":0.2037,"g":0.1467},{"b":0.2644,"g":0.1458},{"b":0.2583,"g":0.1445},{"b":0.2648,"g":0.1422},{"b":0.2980,"g":0.1418},{"b":0.3121,"g":0.1418},{"b":0.2595,"g":0.1378},{"b":0.2151,"g":0.1366},{"b":0.1706,"g":0.1300},{"b":0.1354,"g":0.1113},{"b":0.1354,"g":0.1062},{"b":0.1524,"g":0.0797},{"b":0.1678,"g":0.0861},{"b":0.1787,"g":0.0861},{"b":0.1888,"g":0.0828},{"b":0.2090,"g":0.0828},{"b":0.2212,"g":0.0880},{"b":0.2304,"g":0.0872},{"b":0.1425,"g":0.0935},{"b":0.1455,"g":0.0935},{"b":0.149,"g":0.094},{"b":0.152,"g":0.0935},{"b":0.156,"g":0.094},{"b":0.164,"g":0.0945},{"b":0.3182,"g":0.1010},{"b":0.3052,"g":0.1040},{"b":0.3230,"g":0.1092},{"b":0.3340,"g":0.1149},{"b":0.3364,"g":0.1323},{"b":0.3262,"g":0.1343},
{"b":0.262,"g":0.128},{"b":0.268,"g":0.133},{"b":0.271,"g":0.124},{"b":0.275,"g":0.130},{"b":0.279,"g":0.121},{"b":0.283,"g":0.127},{"b":0.286,"g":0.134},{"b":0.289,"g":0.118},{"b":0.292,"g":0.125},{"b":0.295,"g":0.131},{"b":0.298,"g":0.122},{"b":0.301,"g":0.137},{"b":0.304,"g":0.116},{"b":0.307,"g":0.128},{"b":0.309,"g":0.120},{"b":0.312,"g":0.133},{"b":0.315,"g":0.125},{"b":0.318,"g":0.114},{"b":0.320,"g":0.130},{"b":0.323,"g":0.121},{"b":0.326,"g":0.127},{"b":0.329,"g":0.118},{"b":0.332,"g":0.124},{"b":0.335,"g":0.129},{"b":0.338,"g":0.120},{"b":0.266,"g":0.117},{"b":0.273,"g":0.113},{"b":0.281,"g":0.112},{"b":0.288,"g":0.109},{"b":0.296,"g":0.114},{"b":0.303,"g":0.110},{"b":0.311,"g":0.107},{"b":0.317,"g":0.112},{"b":0.327,"g":0.108},{"b":0.333,"g":0.112},{"b":0.277,"g":0.136},{"b":0.291,"g":0.139},{"b":0.306,"g":0.141},{"b":0.321,"g":0.137},{"b":0.285,"g":0.105},
{"b":0.203,"g":0.121},{"b":0.208,"g":0.127},{"b":0.212,"g":0.119},{"b":0.216,"g":0.124},{"b":0.219,"g":0.130},{"b":0.223,"g":0.121},{"b":0.227,"g":0.126},{"b":0.231,"g":0.119},{"b":0.234,"g":0.133},{"b":0.238,"g":0.123},{"b":0.241,"g":0.128},{"b":0.245,"g":0.120},{"b":0.248,"g":0.131},{"b":0.252,"g":0.124},{"b":0.255,"g":0.118},{"b":0.258,"g":0.127},{"b":0.229,"g":0.131},{"b":0.214,"g":0.132},{"b":0.199,"g":0.126},{"b":0.193,"g":0.122},{"b":0.246,"g":0.135},{"b":0.236,"g":0.137},{"b":0.252,"g":0.139},{"b":0.221,"g":0.117},{"b":0.185,"g":0.124},
{"b":0.168,"g":0.098},{"b":0.171,"g":0.104},{"b":0.174,"g":0.095},{"b":0.176,"g":0.110},{"b":0.179,"g":0.101},{"b":0.181,"g":0.097},{"b":0.183,"g":0.106},{"b":0.186,"g":0.113},{"b":0.188,"g":0.099},{"b":0.190,"g":0.103},{"b":0.192,"g":0.094},{"b":0.194,"g":0.109},{"b":0.196,"g":0.116},{"b":0.198,"g":0.101},{"b":0.200,"g":0.106},{"b":0.202,"g":0.097},{"b":0.204,"g":0.112},{"b":0.206,"g":0.103},{"b":0.208,"g":0.108},{"b":0.210,"g":0.099},{"b":0.212,"g":0.114},{"b":0.214,"g":0.105},{"b":0.216,"g":0.110},{"b":0.218,"g":0.096},{"b":0.220,"g":0.117},{"b":0.222,"g":0.102},{"b":0.224,"g":0.107},{"b":0.226,"g":0.113},{"b":0.228,"g":0.099},{"b":0.230,"g":0.110},{"b":0.232,"g":0.104},{"b":0.234,"g":0.115},{"b":0.236,"g":0.108},{"b":0.238,"g":0.101},{"b":0.240,"g":0.112},{"b":0.242,"g":0.117},{"b":0.244,"g":0.106},{"b":0.246,"g":0.111},{"b":0.248,"g":0.102},{"b":0.250,"g":0.115},{"b":0.252,"g":0.108},{"b":0.254,"g":0.113},{"b":0.256,"g":0.104},{"b":0.258,"g":0.118},{"b":0.260,"g":0.110},{"b":0.262,"g":0.114},{"b":0.172,"g":0.112},{"b":0.177,"g":0.091},{"b":0.182,"g":0.116},{"b":0.187,"g":0.092},{"b":0.191,"g":0.118},{"b":0.195,"g":0.098},{"b":0.199,"g":0.112},{"b":0.203,"g":0.093},{"b":0.207,"g":0.115},{"b":0.211,"g":0.095},{"b":0.215,"g":0.100},{"b":0.219,"g":0.105},{"b":0.223,"g":0.095},{"b":0.227,"g":0.104},{"b":0.231,"g":0.097},{"b":0.235,"g":0.100},{"b":0.239,"g":0.095},{"b":0.243,"g":0.099},{"b":0.247,"g":0.096},{"b":0.251,"g":0.101},{"b":0.255,"g":0.097},{"b":0.259,"g":0.103},{"b":0.265,"g":0.106},{"b":0.270,"g":0.101},{"b":0.275,"g":0.107},{"b":0.280,"g":0.099},{"b":0.185,"g":0.107},{"b":0.197,"g":0.104},{"b":0.209,"g":0.103},{"b":0.221,"g":0.111},{"b":0.233,"g":0.109},{"b":0.245,"g":0.114},{"b":0.213,"g":0.092},{"b":0.225,"g":0.091},
{"b":0.140,"g":0.102},{"b":0.146,"g":0.108},{"b":0.150,"g":0.099},{"b":0.155,"g":0.104},{"b":0.158,"g":0.110},{"b":0.161,"g":0.096},{"b":0.163,"g":0.101},{"b":0.157,"g":0.090},{"b":0.166,"g":0.093},{"b":0.160,"g":0.115},{"b":0.153,"g":0.113},{"b":0.169,"g":0.119},{"b":0.175,"g":0.122},{"b":0.178,"g":0.087},{"b":0.195,"g":0.089},
{"b":0.268,"g":0.097},{"b":0.276,"g":0.094},{"b":0.287,"g":0.100},{"b":0.294,"g":0.096},{"b":0.300,"g":0.103},{"b":0.314,"g":0.099},{"b":0.298,"g":0.092},{"b":0.284,"g":0.091},{"b":0.272,"g":0.089},{"b":0.263,"g":0.092},
{"b":0.1783,"g":0.1034},{"b":0.1842,"g":0.0962},{"b":0.1897,"g":0.1085},{"b":0.1935,"g":0.1018},{"b":0.1974,"g":0.1126},{"b":0.2018,"g":0.1048},{"b":0.2056,"g":0.0987},{"b":0.2093,"g":0.1134},{"b":0.2131,"g":0.1071},{"b":0.2172,"g":0.1003},{"b":0.2208,"g":0.1145},{"b":0.2246,"g":0.1087},{"b":0.2287,"g":0.1022},{"b":0.2323,"g":0.1168},{"b":0.2361,"g":0.1053},{"b":0.2402,"g":0.1124},{"b":0.2437,"g":0.1008},{"b":0.2478,"g":0.1082},{"b":0.2514,"g":0.1136},{"b":0.2553,"g":0.1051},{"b":0.2591,"g":0.1168},{"b":0.2633,"g":0.1097},{"b":0.2678,"g":0.1213},{"b":0.2714,"g":0.1172},{"b":0.2751,"g":0.1237},{"b":0.2792,"g":0.1158},{"b":0.2836,"g":0.1192},{"b":0.2873,"g":0.1261},{"b":0.2914,"g":0.1207},{"b":0.2957,"g":0.1288},{"b":0.2993,"g":0.1173},{"b":0.3035,"g":0.1254},{"b":0.3078,"g":0.1336},{"b":0.3116,"g":0.1219},{"b":0.3154,"g":0.1393},{"b":0.3196,"g":0.1302},{"b":0.3245,"g":0.1162},{"b":0.3297,"g":0.1383},{"b":0.3348,"g":0.1247},{"b":0.1875,"g":0.1165},{"b":0.1953,"g":0.0924},{"b":0.2035,"g":0.1191},{"b":0.2117,"g":0.1238},{"b":0.2268,"g":0.1241},{"b":0.2385,"g":0.1202},{"b":0.2525,"g":0.1214},{"b":0.2647,"g":0.1152},{"b":0.2768,"g":0.1042},{"b":0.1727,"g":0.0989},{"b":0.1653,"g":0.1062},{"b":0.1594,"g":0.0952},{"b":0.1803,"g":0.0926},{"b":0.2076,"g":0.0911},{"b":0.2315,"g":0.0926},{"b":0.2456,"g":0.0931},{"b":0.2612,"g":0.0985},{"b":0.2713,"g":0.1062},{"b":0.2862,"g":0.1091},{"b":0.3102,"g":0.1142},{"b":0.3225,"g":0.1228},
{"b":0.1745,"g":0.1071},{"b":0.1812,"g":0.1119},{"b":0.1864,"g":0.1018},{"b":0.1917,"g":0.1142},{"b":0.1968,"g":0.0978},{"b":0.2022,"g":0.1102},{"b":0.2074,"g":0.1046},{"b":0.2129,"g":0.1162},{"b":0.2183,"g":0.1054},{"b":0.2235,"g":0.1182},{"b":0.2284,"g":0.1068},{"b":0.2338,"g":0.1012},{"b":0.2384,"g":0.1157},{"b":0.2433,"g":0.1062},{"b":0.2487,"g":0.1187},{"b":0.2538,"g":0.1092},{"b":0.2586,"g":0.1232},{"b":0.2635,"g":0.1138},{"b":0.2692,"g":0.1087},{"b":0.2054,"g":0.1223},{"b":0.2156,"g":0.1198},{"b":0.2304,"g":0.1208},{"b":0.2447,"g":0.1249},{"b":0.1887,"g":0.0945},{"b":0.2183,"g":0.0931},{"b":0.2392,"g":0.0968},{"b":0.2568,"g":0.1007},{"b":0.1805,"g":0.1087},{"b":0.1996,"g":0.1174},{"b":0.2253,"g":0.0992}],
"r3c2":[{"b":0.2636,"g":0.1588},{"b":0.2612,"g":0.1549},{"b":0.2596,"g":0.1523},{"b":0.2778,"g":0.1519},{"b":0.2394,"g":0.1471},{"b":0.2422,"g":0.1471},{"b":0.3028,"g":0.1337},{"b":0.2988,"g":0.1262},{"b":0.1957,"g":0.1227},{"b":0.2705,"g":0.1141},{"b":0.2645,"g":0.1058},{"b":0.2523,"g":0.1059},{"b":0.1674,"g":0.0907},{"b":0.1844,"g":0.0846},{"b":0.2099,"g":0.0833},{"b":0.2066,"g":0.0866},
{"b":0.184,"g":0.090},{"b":0.188,"g":0.092},{"b":0.192,"g":0.089},{"b":0.196,"g":0.093},{"b":0.200,"g":0.091},{"b":0.204,"g":0.088},{"b":0.208,"g":0.092},{"b":0.212,"g":0.090},{"b":0.216,"g":0.093},{"b":0.220,"g":0.089},{"b":0.224,"g":0.091},{"b":0.228,"g":0.094},{"b":0.198,"g":0.0875},{"b":0.213,"g":0.0865},
{"b":0.182,"g":0.097},{"b":0.185,"g":0.100},{"b":0.189,"g":0.095},{"b":0.193,"g":0.098},{"b":0.197,"g":0.101},{"b":0.201,"g":0.096},{"b":0.205,"g":0.099},{"b":0.209,"g":0.095},{"b":0.213,"g":0.100},{"b":0.217,"g":0.097},{"b":0.221,"g":0.095},{"b":0.225,"g":0.099},{"b":0.229,"g":0.101},{"b":0.233,"g":0.096},{"b":0.237,"g":0.098},{"b":0.241,"g":0.100},{"b":0.245,"g":0.097},{"b":0.211,"g":0.1015},{"b":0.195,"g":0.0945},
{"b":0.186,"g":0.104},{"b":0.190,"g":0.107},{"b":0.194,"g":0.102},{"b":0.198,"g":0.105},{"b":0.202,"g":0.108},{"b":0.206,"g":0.103},{"b":0.210,"g":0.106},{"b":0.214,"g":0.109},{"b":0.218,"g":0.104},{"b":0.222,"g":0.107},{"b":0.226,"g":0.102},{"b":0.230,"g":0.105},{"b":0.234,"g":0.108},{"b":0.238,"g":0.103},{"b":0.242,"g":0.106},{"b":0.246,"g":0.109},{"b":0.250,"g":0.104},{"b":0.254,"g":0.107},{"b":0.258,"g":0.102},{"b":0.216,"g":0.1015},
{"b":0.190,"g":0.112},{"b":0.194,"g":0.115},{"b":0.198,"g":0.110},{"b":0.202,"g":0.113},{"b":0.206,"g":0.116},{"b":0.210,"g":0.111},{"b":0.214,"g":0.114},{"b":0.218,"g":0.117},{"b":0.222,"g":0.112},{"b":0.226,"g":0.115},{"b":0.230,"g":0.110},{"b":0.234,"g":0.113},{"b":0.238,"g":0.116},{"b":0.242,"g":0.111},{"b":0.246,"g":0.114},{"b":0.250,"g":0.117},{"b":0.254,"g":0.112},{"b":0.258,"g":0.115},{"b":0.262,"g":0.110},{"b":0.266,"g":0.116},
{"b":0.198,"g":0.120},{"b":0.203,"g":0.123},{"b":0.208,"g":0.119},{"b":0.212,"g":0.126},{"b":0.216,"g":0.121},{"b":0.220,"g":0.124},{"b":0.224,"g":0.119},{"b":0.228,"g":0.122},{"b":0.232,"g":0.126},{"b":0.236,"g":0.120},{"b":0.240,"g":0.123},{"b":0.244,"g":0.127},{"b":0.248,"g":0.121},{"b":0.252,"g":0.124},{"b":0.256,"g":0.119},{"b":0.260,"g":0.122},{"b":0.264,"g":0.126},{"b":0.268,"g":0.120},{"b":0.272,"g":0.124},{"b":0.276,"g":0.127},
{"b":0.212,"g":0.129},{"b":0.217,"g":0.132},{"b":0.222,"g":0.130},{"b":0.227,"g":0.134},{"b":0.232,"g":0.129},{"b":0.237,"g":0.132},{"b":0.242,"g":0.135},{"b":0.247,"g":0.130},{"b":0.252,"g":0.133},{"b":0.257,"g":0.136},{"b":0.262,"g":0.131},{"b":0.267,"g":0.134},{"b":0.272,"g":0.129},{"b":0.277,"g":0.133},{"b":0.282,"g":0.135},{"b":0.226,"g":0.1365},
{"b":0.236,"g":0.139},{"b":0.242,"g":0.141},{"b":0.248,"g":0.138},{"b":0.254,"g":0.142},{"b":0.260,"g":0.139},{"b":0.266,"g":0.141},{"b":0.272,"g":0.138},{"b":0.250,"g":0.1435},{"b":0.262,"g":0.1435},
{"b":0.1857,"g":0.0935},{"b":0.1903,"g":0.0978},{"b":0.1948,"g":0.0905},{"b":0.1993,"g":0.0952},{"b":0.2036,"g":0.1023},{"b":0.2074,"g":0.0968},{"b":0.2117,"g":0.1052},{"b":0.2154,"g":0.0937},{"b":0.2193,"g":0.1078},{"b":0.2237,"g":0.1013},{"b":0.2273,"g":0.1124},{"b":0.2318,"g":0.1042},{"b":0.2357,"g":0.1152},{"b":0.2396,"g":0.1089},{"b":0.2437,"g":0.1183},{"b":0.2475,"g":0.1127},{"b":0.2516,"g":0.1213},{"b":0.2557,"g":0.1161},{"b":0.2598,"g":0.1247},{"b":0.2632,"g":0.1188},{"b":0.2677,"g":0.1295},{"b":0.2036,"g":0.1176},{"b":0.2098,"g":0.1224},{"b":0.2145,"g":0.1181},{"b":0.2204,"g":0.1277},{"b":0.2252,"g":0.1235},{"b":0.2313,"g":0.1332},{"b":0.2368,"g":0.1285},{"b":0.2426,"g":0.1362},{"b":0.2482,"g":0.1314},{"b":0.2547,"g":0.1396},{"b":0.2597,"g":0.1352},{"b":0.2648,"g":0.1408},{"b":0.2703,"g":0.1373},{"b":0.2745,"g":0.1316},{"b":0.1925,"g":0.1058},{"b":0.1973,"g":0.1131},{"b":0.2165,"g":0.0883},{"b":0.2247,"g":0.0887},{"b":0.2326,"g":0.0923},{"b":0.2392,"g":0.0945},{"b":0.2512,"g":0.1002},{"b":0.2614,"g":0.1061},{"b":0.2783,"g":0.1271},{"b":0.2802,"g":0.1371},{"b":0.2318,"g":0.1413},{"b":0.2216,"g":0.1336},
{"b":0.1882,"g":0.1012},{"b":0.1955,"g":0.0992},{"b":0.2008,"g":0.1064},{"b":0.2065,"g":0.1118},{"b":0.2127,"g":0.0982},{"b":0.2185,"g":0.1132},{"b":0.2232,"g":0.1062},{"b":0.2293,"g":0.1178},{"b":0.2347,"g":0.1002},{"b":0.2408,"g":0.1222},{"b":0.2452,"g":0.1048},{"b":0.2533,"g":0.1278},{"b":0.2587,"g":0.1102},{"b":0.1936,"g":0.1182},{"b":0.2118,"g":0.1262},{"b":0.2285,"g":0.1291},{"b":0.2456,"g":0.1336},{"b":0.2632,"g":0.1333},{"b":0.2008,"g":0.0898},{"b":0.2278,"g":0.0965}],
"r3c3":[{"b":0.1803,"g":0.0802},{"b":0.184,"g":0.082},{"b":0.182,"g":0.084},{"b":0.187,"g":0.085},{"b":0.185,"g":0.087},{"b":0.190,"g":0.088},{"b":0.188,"g":0.090},{"b":0.193,"g":0.091},{"b":0.191,"g":0.093},{"b":0.196,"g":0.094},{"b":0.194,"g":0.096},{"b":0.199,"g":0.097},{"b":0.197,"g":0.099},{"b":0.202,"g":0.100},{"b":0.200,"g":0.102},{"b":0.206,"g":0.103},{"b":0.203,"g":0.105},{"b":0.210,"g":0.106},{"b":0.207,"g":0.108},{"b":0.214,"g":0.109},{"b":0.210,"g":0.111},{"b":0.218,"g":0.112},{"b":0.213,"g":0.113},{"b":0.220,"g":0.114},{"b":0.216,"g":0.115},{"b":0.223,"g":0.116},{"b":0.219,"g":0.117},{"b":0.225,"g":0.119},{"b":0.222,"g":0.120},{"b":0.228,"g":0.121},{"b":0.224,"g":0.123},{"b":0.230,"g":0.124},{"b":0.227,"g":0.125},{"b":0.233,"g":0.126},{"b":0.230,"g":0.128},{"b":0.236,"g":0.129},{"b":0.233,"g":0.131},{"b":0.239,"g":0.132},{"b":0.236,"g":0.133},{"b":0.242,"g":0.134},{"b":0.239,"g":0.136},{"b":0.245,"g":0.137},{"b":0.243,"g":0.138},{"b":0.249,"g":0.139},{"b":0.246,"g":0.140},{"b":0.251,"g":0.141},{"b":0.249,"g":0.1425},{"b":0.2543,"g":0.1427},{"b":0.205,"g":0.101},{"b":0.216,"g":0.110},{"b":0.226,"g":0.118},{"b":0.221,"g":0.107},{"b":0.234,"g":0.1149},
{"b":0.1855,"g":0.0835},{"b":0.1915,"g":0.0895},{"b":0.1865,"g":0.0915},{"b":0.1975,"g":0.0955},{"b":0.1925,"g":0.0985},{"b":0.2045,"g":0.1035},{"b":0.1985,"g":0.1055},{"b":0.2125,"g":0.1105},{"b":0.2055,"g":0.1125},{"b":0.2205,"g":0.1175},{"b":0.2135,"g":0.1195},{"b":0.2275,"g":0.1235},{"b":0.2215,"g":0.1265},{"b":0.2345,"g":0.1295},{"b":0.2285,"g":0.1325},{"b":0.2405,"g":0.1355},{"b":0.2345,"g":0.1375},{"b":0.2475,"g":0.1415},{"b":0.2525,"g":0.1385},{"b":0.2375,"g":0.1305}],
"r3c4":[{"b":0.2175,"g":0.1057},{"b":0.2147,"g":0.1114},{"b":0.219,"g":0.108},{"b":0.222,"g":0.110},{"b":0.224,"g":0.112},{"b":0.221,"g":0.1125},{"b":0.226,"g":0.114},{"b":0.228,"g":0.115},{"b":0.225,"g":0.116},{"b":0.230,"g":0.117},{"b":0.232,"g":0.118},{"b":0.229,"g":0.119},{"b":0.234,"g":0.120},{"b":0.231,"g":0.121},{"b":0.236,"g":0.122},{"b":0.233,"g":0.123},{"b":0.238,"g":0.124},{"b":0.235,"g":0.125},{"b":0.240,"g":0.126},{"b":0.237,"g":0.127},{"b":0.241,"g":0.128},{"b":0.239,"g":0.129},{"b":0.243,"g":0.130},{"b":0.240,"g":0.131},{"b":0.245,"g":0.132},{"b":0.242,"g":0.133},{"b":0.246,"g":0.134},{"b":0.244,"g":0.135},{"b":0.248,"g":0.136},{"b":0.245,"g":0.137},{"b":0.249,"g":0.138},{"b":0.247,"g":0.139},{"b":0.251,"g":0.140},{"b":0.249,"g":0.141},{"b":0.2511,"g":0.1418},{"b":0.2551,"g":0.1408},{"b":0.253,"g":0.1427},
{"b":0.2165,"g":0.1095},{"b":0.2235,"g":0.1155},{"b":0.2195,"g":0.1155},{"b":0.2275,"g":0.1205},{"b":0.2335,"g":0.1255},{"b":0.2285,"g":0.1265},{"b":0.2395,"g":0.1325},{"b":0.2365,"g":0.1345},{"b":0.2445,"g":0.1385},{"b":0.2425,"g":0.1405},{"b":0.2545,"g":0.1425}]
},
"columns":4,
"spacing":{"row":79,"column":72.5},
"bounds":"flush",
"concat":[
{"width":172,"height":165.5,"title":{"text":"t = 0","dy":11},"layer":[
 {"data":{"name":"r1c1"},"mark":{"type":"circle","clip":true},"encoding":{
  "x":{"field":"b","type":"quantitative","scale":{"domain":[0.129,0.3376],"nice":false,"zero":false},
   "axis":{"values":[0.15,0.2,0.25,0.3],"format":".2f","labelExpr":"datum.label == '0.15' || datum.label == '0.25' ? datum.label : ''","tickSize":5,"labelFontSize":15,"labelPadding":7.4,"labelFlush":false,"labelOverlap":false,"title":"β","titleFont":"Liberation Serif","titleFontSize":21,"titleFontWeight":"normal","titleBaseline":"alphabetic","titleAlign":"center","titleX":80,"titleY":48.5}},
  "y":{"field":"g","type":"quantitative","scale":{"domain":[0.077,0.1632],"nice":false,"zero":false},
   "axis":{"values":[0.08,0.1,0.12,0.14,0.16],"format":".2f","labelExpr":"datum.label == '0.10' || datum.label == '0.14' ? '' : datum.label","tickSize":5,"labelFontSize":15,"labelAngle":-90,"labelAlign":"center","labelBaseline":"bottom","labelPadding":7.8,"labelFlush":false,"labelOverlap":false,"title":"γ","titleFont":"Liberation Serif","titleFontSize":21,"titleFontWeight":"normal","titleAngle":-90,"titleBaseline":"alphabetic","titleAlign":"center","titleX":-50.3,"titleY":84.7}}}},
 {"data":{"name":"vl"},"mark":"rule","encoding":{"x":{"field":"b","type":"quantitative"}}},
 {"data":{"name":"hl"},"mark":"rule","encoding":{"y":{"field":"g","type":"quantitative"}}},
 {"data":{"name":"tr"},"mark":"point","encoding":{"x":{"field":"b","type":"quantitative"},"y":{"field":"g","type":"quantitative"}}}]},
{"width":172,"height":165.5,"title":"t = 20","layer":[
 {"data":{"name":"r1c2"},"mark":{"type":"circle","clip":true},"encoding":{
  "x":{"field":"b","type":"quantitative","scale":{"domain":[0.129,0.3376],"nice":false,"zero":false},"axis":{"title":"uniform draws, logit transformation","labels":false,"ticks":false,"domain":false,"titleFontSize":18,"titleFontWeight":"normal","titleBaseline":"top","titleAlign":"center","titleX":155,"titleY":21}},
  "y":{"field":"g","type":"quantitative","scale":{"domain":[0.077,0.1632],"nice":false,"zero":false},"axis":null}}},
 {"data":{"name":"vl"},"mark":"rule","encoding":{"x":{"field":"b","type":"quantitative"}}},
 {"data":{"name":"hl"},"mark":"rule","encoding":{"y":{"field":"g","type":"quantitative","axis":null}}},
 {"data":{"name":"tr"},"mark":"point","encoding":{"x":{"field":"b","type":"quantitative"},"y":{"field":"g","type":"quantitative","axis":null}}}]},
{"width":172,"height":165.5,"title":"t = 40","layer":[
 {"data":{"name":"r1c3"},"mark":{"type":"circle","clip":true},"encoding":{
  "x":{"field":"b","type":"quantitative","scale":{"domain":[0.129,0.3376],"nice":false,"zero":false},"axis":null},
  "y":{"field":"g","type":"quantitative","scale":{"domain":[0.077,0.1632],"nice":false,"zero":false},"axis":null}}},
 {"data":{"name":"vl"},"mark":"rule","encoding":{"x":{"field":"b","type":"quantitative","axis":null}}},
 {"data":{"name":"hl"},"mark":"rule","encoding":{"y":{"field":"g","type":"quantitative","axis":null}}},
 {"data":{"name":"tr"},"mark":"point","encoding":{"x":{"field":"b","type":"quantitative","axis":null},"y":{"field":"g","type":"quantitative","axis":null}}}]},
{"width":161,"height":165.5,"title":"t = 60","layer":[
 {"data":{"name":"r1c4"},"mark":{"type":"circle","clip":true},"encoding":{
  "x":{"field":"b","type":"quantitative","scale":{"domain":[0.129,0.3243],"nice":false,"zero":false},"axis":null},
  "y":{"field":"g","type":"quantitative","scale":{"domain":[0.077,0.1632],"nice":false,"zero":false},"axis":null}}},
 {"data":{"name":"vl"},"mark":"rule","encoding":{"x":{"field":"b","type":"quantitative","axis":null}}},
 {"data":{"name":"hl"},"mark":"rule","encoding":{"y":{"field":"g","type":"quantitative","axis":null}}},
 {"data":{"name":"tr"},"mark":"point","encoding":{"x":{"field":"b","type":"quantitative","axis":null},"y":{"field":"g","type":"quantitative","axis":null}}}]},
{"width":172,"height":165.5,"layer":[
 {"data":{"name":"r2c1"},"mark":{"type":"circle","clip":true},"encoding":{
  "x":{"field":"b","type":"quantitative","scale":{"domain":[0.129,0.3376],"nice":false,"zero":false},"axis":null},
  "y":{"field":"g","type":"quantitative","scale":{"domain":[0.077,0.1632],"nice":false,"zero":false},"axis":null}}},
 {"data":{"name":"vl"},"mark":"rule","encoding":{"x":{"field":"b","type":"quantitative","axis":null}}},
 {"data":{"name":"hl"},"mark":"rule","encoding":{"y":{"field":"g","type":"quantitative","axis":null}}},
 {"data":{"name":"tr"},"mark":"point","encoding":{"x":{"field":"b","type":"quantitative","axis":null},"y":{"field":"g","type":"quantitative","axis":null}}}]},
{"width":172,"height":165.5,"layer":[
 {"data":{"name":"r2c2"},"mark":{"type":"circle","clip":true},"encoding":{
  "x":{"field":"b","type":"quantitative","scale":{"domain":[0.129,0.3376],"nice":false,"zero":false},"axis":{"title":"uniform draws, log transformation","labels":false,"ticks":false,"domain":false,"titleFontSize":18,"titleFontWeight":"normal","titleBaseline":"top","titleAlign":"center","titleX":155,"titleY":21}},
  "y":{"field":"g","type":"quantitative","scale":{"domain":[0.077,0.1632],"nice":false,"zero":false},"axis":null}}},
 {"data":{"name":"vl"},"mark":"rule","encoding":{"x":{"field":"b","type":"quantitative"}}},
 {"data":{"name":"hl"},"mark":"rule","encoding":{"y":{"field":"g","type":"quantitative","axis":null}}},
 {"data":{"name":"tr"},"mark":"point","encoding":{"x":{"field":"b","type":"quantitative"},"y":{"field":"g","type":"quantitative","axis":null}}}]},
{"width":172,"height":165.5,"layer":[
 {"data":{"name":"r2c3"},"mark":{"type":"circle","clip":true},"encoding":{
  "x":{"field":"b","type":"quantitative","scale":{"domain":[0.129,0.3376],"nice":false,"zero":false},"axis":null},
  "y":{"field":"g","type":"quantitative","scale":{"domain":[0.077,0.1632],"nice":false,"zero":false},"axis":null}}},
 {"data":{"name":"vl"},"mark":"rule","encoding":{"x":{"field":"b","type":"quantitative","axis":null}}},
 {"data":{"name":"hl"},"mark":"rule","encoding":{"y":{"field":"g","type":"quantitative","axis":null}}},
 {"data":{"name":"tr"},"mark":"point","encoding":{"x":{"field":"b","type":"quantitative","axis":null},"y":{"field":"g","type":"quantitative","axis":null}}}]},
{"width":161,"height":165.5,"layer":[
 {"data":{"name":"r2c4"},"mark":{"type":"circle","clip":true},"encoding":{
  "x":{"field":"b","type":"quantitative","scale":{"domain":[0.129,0.3243],"nice":false,"zero":false},"axis":null},
  "y":{"field":"g","type":"quantitative","scale":{"domain":[0.077,0.1632],"nice":false,"zero":false},"axis":null}}},
 {"data":{"name":"vl"},"mark":"rule","encoding":{"x":{"field":"b","type":"quantitative","axis":null}}},
 {"data":{"name":"hl"},"mark":"rule","encoding":{"y":{"field":"g","type":"quantitative","axis":null}}},
 {"data":{"name":"tr"},"mark":"point","encoding":{"x":{"field":"b","type":"quantitative","axis":null},"y":{"field":"g","type":"quantitative","axis":null}}}]},
{"width":172,"height":165.5,"layer":[
 {"data":{"name":"r3c1"},"mark":{"type":"circle","clip":true},"encoding":{
  "x":{"field":"b","type":"quantitative","scale":{"domain":[0.129,0.3376],"nice":false,"zero":false},"axis":null},
  "y":{"field":"g","type":"quantitative","scale":{"domain":[0.077,0.1632],"nice":false,"zero":false},"axis":null}}},
 {"data":{"name":"vl"},"mark":"rule","encoding":{"x":{"field":"b","type":"quantitative","axis":null}}},
 {"data":{"name":"hl"},"mark":"rule","encoding":{"y":{"field":"g","type":"quantitative","axis":null}}},
 {"data":{"name":"tr"},"mark":"point","encoding":{"x":{"field":"b","type":"quantitative","axis":null},"y":{"field":"g","type":"quantitative","axis":null}}}]},
{"width":172,"height":165.5,"layer":[
 {"data":{"name":"r3c2"},"mark":{"type":"circle","clip":true},"encoding":{
  "x":{"field":"b","type":"quantitative","scale":{"domain":[0.129,0.3376],"nice":false,"zero":false},"axis":{"title":"log−normal draws, log transformation","labels":false,"ticks":false,"domain":false,"titleFontSize":18,"titleFontWeight":"normal","titleBaseline":"top","titleAlign":"center","titleX":155,"titleY":21}},
  "y":{"field":"g","type":"quantitative","scale":{"domain":[0.077,0.1632],"nice":false,"zero":false},"axis":null}}},
 {"data":{"name":"vl"},"mark":"rule","encoding":{"x":{"field":"b","type":"quantitative"}}},
 {"data":{"name":"hl"},"mark":"rule","encoding":{"y":{"field":"g","type":"quantitative","axis":null}}},
 {"data":{"name":"tr"},"mark":"point","encoding":{"x":{"field":"b","type":"quantitative"},"y":{"field":"g","type":"quantitative","axis":null}}}]},
{"width":172,"height":165.5,"layer":[
 {"data":{"name":"r3c3"},"mark":{"type":"circle","clip":true},"encoding":{
  "x":{"field":"b","type":"quantitative","scale":{"domain":[0.129,0.3376],"nice":false,"zero":false},"axis":null},
  "y":{"field":"g","type":"quantitative","scale":{"domain":[0.077,0.1632],"nice":false,"zero":false},"axis":null}}},
 {"data":{"name":"vl"},"mark":"rule","encoding":{"x":{"field":"b","type":"quantitative","axis":null}}},
 {"data":{"name":"hl"},"mark":"rule","encoding":{"y":{"field":"g","type":"quantitative","axis":null}}},
 {"data":{"name":"tr"},"mark":"point","encoding":{"x":{"field":"b","type":"quantitative","axis":null},"y":{"field":"g","type":"quantitative","axis":null}}}]},
{"width":161,"height":165.5,"layer":[
 {"data":{"name":"r3c4"},"mark":{"type":"circle","clip":true},"encoding":{
  "x":{"field":"b","type":"quantitative","scale":{"domain":[0.129,0.3243],"nice":false,"zero":false},"axis":null},
  "y":{"field":"g","type":"quantitative","scale":{"domain":[0.077,0.1632],"nice":false,"zero":false},"axis":null}}},
 {"data":{"name":"vl"},"mark":"rule","encoding":{"x":{"field":"b","type":"quantitative","axis":null}}},
 {"data":{"name":"hl"},"mark":"rule","encoding":{"y":{"field":"g","type":"quantitative","axis":null}}},
 {"data":{"name":"tr"},"mark":"point","encoding":{"x":{"field":"b","type":"quantitative","axis":null},"y":{"field":"g","type":"quantitative","axis":null}}}]}
]
}
